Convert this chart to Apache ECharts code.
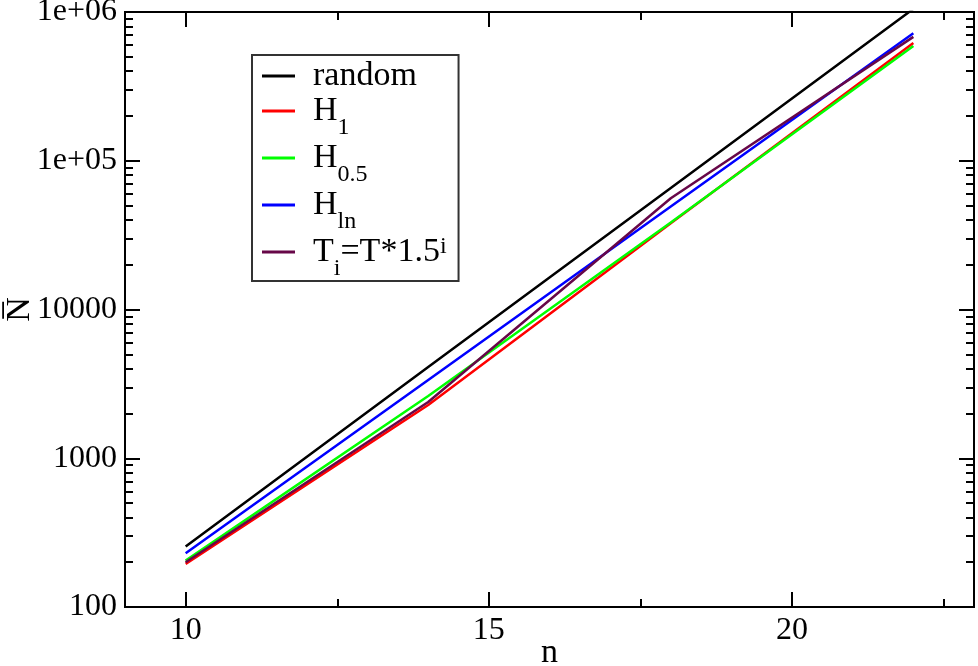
<!DOCTYPE html>
<html>
<head>
<meta charset="utf-8">
<script src="https://cdn.jsdelivr.net/npm/echarts@6/dist/echarts.min.js"></script>
<style>
  html, body { margin: 0; padding: 0; background: #fff; }
  #chart { width: 978px; height: 666px; }
</style>
</head>
<body>
<div id="chart"></div>
<script>
// values (n on x, mean N on log y)
const nValues = [10, 14, 18, 22]
const randomN = [255, 4100, 65600, 1.05e6]
const h1N = [195, 2280, 38000, 6.2e5]
const h05N = [205, 2620, 38500, 5.9e5]
const hlnN = [230, 3360, 49200, 7.2e5]
const tempN = [200, 2390, 56000, 6.8e5]

const xMajor = [10, 15, 20]
const xMinor = [12.5, 17.5, 22.5]
const yMajor = [100, 1000, 10000, 100000, 1000000]
const yMinor = []
yMajor.slice(0, -1).forEach(d => {
  for (let k = 2; k <= 9; k++) yMinor.push(d * k)
})

const font = 'Liberation Serif'
const pair = (ys) => nValues.map((n, i) => [n, ys[i]])

const yLabel = (v) => {
  if (v >= 100000) return '1e+0' + Math.round(Math.log10(v))
  return String(Math.round(v))
}

const xAxisBase = (pos, ticks, len, labels) => ({
  type: 'value',
  position: pos,
  min: 9,
  max: 23,
  axisLine: { show: false, onZero: false },
  splitLine: { show: false },
  axisTick: { show: true, inside: true, length: len, customValues: ticks,
    lineStyle: { color: '#000', width: 2 } },
  axisLabel: labels
    ? { show: true, customValues: ticks, margin: 8, color: '#000', fontFamily: font, fontSize: 32 }
    : { show: false }
})

const yAxisBase = (pos, ticks, len, labels) => ({
  type: 'log',
  logBase: 10,
  position: pos,
  min: 100,
  max: 1000000,
  axisLine: { show: false, onZero: false },
  splitLine: { show: false },
  minorTick: { show: false },
  axisTick: { show: true, inside: true, length: len, customValues: ticks,
    lineStyle: { color: '#000', width: 2 } },
  axisLabel: labels
    ? { show: true, customValues: ticks, margin: 8, color: '#000', fontFamily: font, fontSize: 32,
        formatter: yLabel }
    : { show: false }
})

const xAxes = [
  Object.assign(xAxisBase('bottom', xMajor, 15, true), {
    name: 'n', nameLocation: 'middle', nameGap: 29, nameMoveOverlap: false,
    nameTextStyle: { color: '#000', fontFamily: font, fontSize: 34 }
  }),
  xAxisBase('bottom', xMinor, 8, false),
  xAxisBase('top', xMajor, 15, false),
  xAxisBase('top', xMinor, 8, false)
]

const yAxes = [
  Object.assign(yAxisBase('left', yMajor, 15, true), {
    name: 'N\u0305', nameLocation: 'middle', nameGap: 88, nameRotate: 90, nameMoveOverlap: false,
    nameTextStyle: { color: '#000', fontFamily: font, fontSize: 34 }
  }),
  yAxisBase('left', yMinor, 8, false),
  yAxisBase('right', yMajor, 15, false),
  yAxisBase('right', yMinor, 8, false)
]

const mkSeries = (name, data, color) => ({
  name: name,
  type: 'line',
  data: pair(data),
  symbol: 'none',
  lineStyle: { color: color, width: 2.5 },
  itemStyle: { color: color },
  animation: false
})

const legendText = {
  'random': '{b|random}',
  'H1': '{b|H}{sub|1}',
  'H0.5': '{b|H}{sub|0.5}',
  'Hln': '{b|H}{sub|ln}',
  'Ti': '{b|T}{sub|i}{t|=T*1.5}{sup|i}'
}

const chart = echarts.init(document.getElementById('chart'))
chart.setOption({
  backgroundColor: '#fff',
  animation: false,
  grid: {
    left: 125, right: 4, top: 12, bottom: 59,
    containLabel: false,
    outerBoundsMode: 'none',
    show: true, borderColor: '#000', borderWidth: 2, backgroundColor: 'transparent'
  },
  xAxis: xAxes,
  yAxis: yAxes,
  legend: {
    orient: 'vertical',
    left: 252,
    top: 55,
    padding: [4, 12, 0, 10],
    itemGap: 1,
    itemWidth: 33,
    itemHeight: 3,
    icon: 'rect',
    borderColor: '#333',
    borderWidth: 2,
    backgroundColor: '#fff',
    data: ['random', 'H1', 'H0.5', 'Hln', 'Ti'],
    formatter: (name) => legendText[name],
    textStyle: {
      color: '#000',
      fontFamily: font,
      fontSize: 34,
      lineHeight: 34,
      rich: {
        b: { fontFamily: font, fontSize: 34, lineHeight: 34, color: '#000', verticalAlign: 'top', padding: [0, 0, 0, 13] },
        t: { fontFamily: font, fontSize: 34, lineHeight: 34, color: '#000', verticalAlign: 'top' },
        sub: { fontFamily: font, fontSize: 24, lineHeight: 24, color: '#000', verticalAlign: 'top', padding: [22, 0, 0, 0] },
        sup: { fontFamily: font, fontSize: 24, lineHeight: 24, color: '#000', verticalAlign: 'top' }
      }
    }
  },
  series: [
    mkSeries('random', randomN, '#000000'),
    mkSeries('H1', h1N, '#ff0000'),
    mkSeries('H0.5', h05N, '#00ff00'),
    mkSeries('Hln', hlnN, '#0000ff'),
    mkSeries('Ti', tempN, '#670748')
  ]
})

window.addEventListener('resize', () => chart.resize())
</script>
</body>
</html>
